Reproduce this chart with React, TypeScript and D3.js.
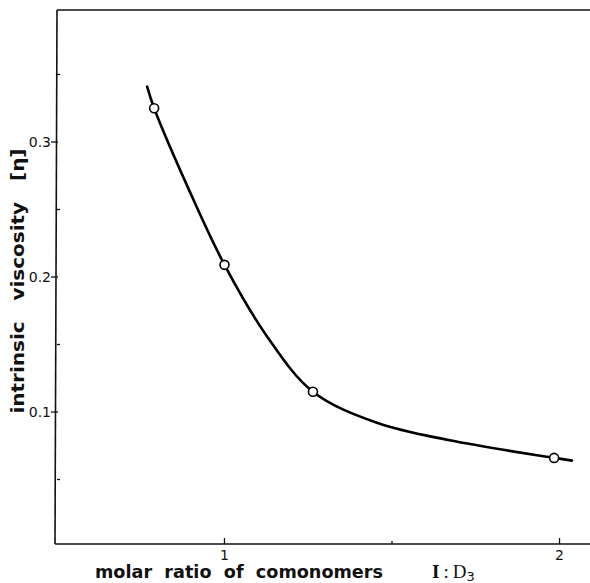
import React from "react";
import * as d3 from "d3";

const W = 590;
const H = 583;

// measured data markers
const pointX = [0.79, 1.0, 1.264, 1.984];
const pointY = [0.325, 0.209, 0.115, 0.066];

// smooth fitted curve
const curveX = [0.769, 0.79, 0.895, 1.0, 1.127, 1.264, 1.455, 1.673, 1.984, 2.037];
const curveY = [0.341, 0.325, 0.264, 0.209, 0.156, 0.115, 0.092, 0.079, 0.066, 0.064];

const yMajor = [0.1, 0.2, 0.3];
const yMajorLabels = ["0.1", "0.2", "0.3"];
const yMinor = [0.05, 0.15, 0.25, 0.35];
const xMajor = [1, 2];
const xMajorLabels = ["1", "2"];
const xMinor = [1.5];

export default function App() {
  const x = d3.scaleLinear().domain([0.5, 2.1]).range([57, 593]);
  const y = d3.scaleLinear().domain([0, 0.4]).range([547, 7]);

  const left = 57;
  const top = 10;
  const bottom = 544;
  const right = 590;

  const line = d3
    .line<number>()
    .x((_, i) => x(curveX[i]))
    .y((_, i) => y(curveY[i]))
    .curve(d3.curveCatmullRom.alpha(0.5));

  const sans = "'DejaVu Sans', 'Liberation Sans', sans-serif";
  const serif = "'Liberation Serif', 'DejaVu Serif', serif";

  return (
    <svg
      width={W}
      height={H}
      viewBox={`0 0 ${W} ${H}`}
      style={{ position: "absolute", left: 0, top: 0, background: "#fff" }}
    >
      <rect x={0} y={0} width={W} height={H} fill="#fff" />
      {/* frame */}
      <g stroke="#111" strokeWidth={1.6} fill="none">
        <line x1={left} y1={top} x2={right} y2={top} />
        <line x1={left} y1={top} x2={left - 2} y2={bottom} />
        <line x1={left - 2} y1={bottom} x2={right} y2={bottom} />
      </g>
      {/* ticks */}
      <g stroke="#111" strokeWidth={1.3}>
        {yMajor.map((v) => (
          <line key={"ym" + v} x1={left - 6} x2={left + 1} y1={y(v)} y2={y(v)} />
        ))}
        {yMinor.map((v) => (
          <line key={"yn" + v} x1={left} x2={left + 3} y1={y(v)} y2={y(v)} />
        ))}
        {xMajor.map((v) => (
          <line key={"xm" + v} x1={x(v)} x2={x(v)} y1={bottom} y2={bottom - 6} />
        ))}
        {xMinor.map((v) => (
          <line key={"xn" + v} x1={x(v)} x2={x(v)} y1={bottom} y2={bottom - 3} />
        ))}
      </g>
      {/* tick labels */}
      <g fontFamily={sans} fontSize={14} fill="#111">
        {yMajor.map((v, i) => (
          <text key={"yl" + v} x={left - 6} y={y(v)} dy="0.35em" textAnchor="end">
            {yMajorLabels[i]}
          </text>
        ))}
        {xMajor.map((v, i) => (
          <text key={"xl" + v} x={x(v)} y={bottom + 16} textAnchor="middle">
            {xMajorLabels[i]}
          </text>
        ))}
      </g>
      {/* curve */}
      <path d={line(curveX) || ""} fill="none" stroke="#000" strokeWidth={2.6} strokeLinecap="round" />
      {/* markers */}
      {pointX.map((v, i) => (
        <circle key={"p" + i} cx={x(v)} cy={y(pointY[i])} r={4.5} fill="#fff" stroke="#000" strokeWidth={1.6} />
      ))}
      {/* axis titles */}
      <text
        transform={`translate(24, 281) rotate(-90)`}
        textAnchor="middle"
        fontFamily={sans}
        fontWeight="bold"
        fontSize={17}
        fill="#111"
        textLength={265}
        lengthAdjust="spacingAndGlyphs"
        style={{ whiteSpace: "pre" }}
      >
        {"intrinsic   viscosity   [η]"}
      </text>
      <text
        x={95}
        y={578}
        fontFamily={sans}
        fontWeight="bold"
        fontSize={17}
        fill="#111"
        textLength={288}
        lengthAdjust="spacingAndGlyphs"
        style={{ whiteSpace: "pre" }}
      >
        {"molar  ratio  of  comonomers"}
      </text>
      <text x={432} y={578} fontFamily={serif} fontSize={19} fill="#111">
        <tspan fontWeight="bold">I</tspan>
        <tspan dx={4}>:</tspan>
        <tspan dx={4}>D</tspan>
        <tspan fontFamily={sans} fontSize={13} dy={3}>3</tspan>
      </text>
    </svg>
  );
}
